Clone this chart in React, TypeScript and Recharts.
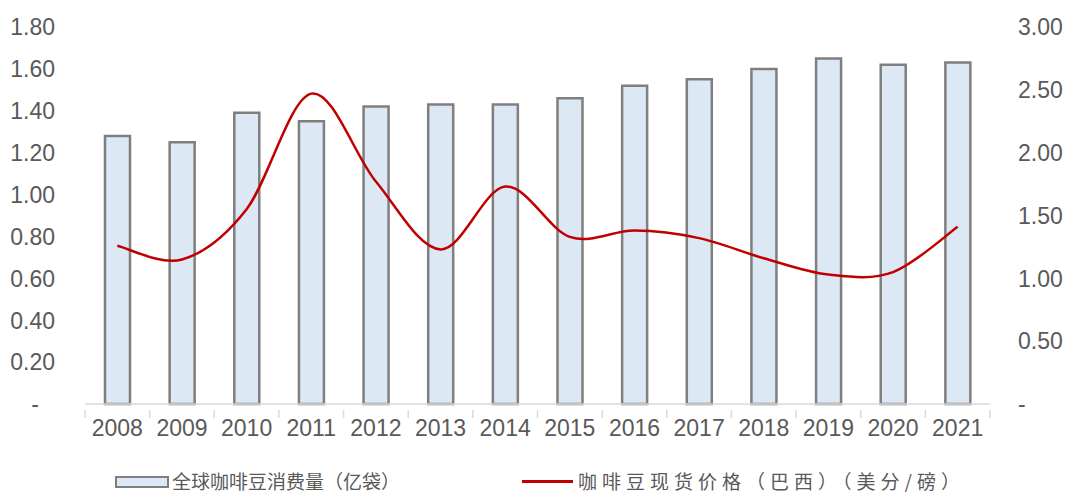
import React from 'react';
import { ComposedChart, Bar, Line, XAxis, YAxis, Legend } from 'recharts';

const years = ['2008', '2009', '2010', '2011', '2012', '2013', '2014', '2015', '2016', '2017', '2018', '2019', '2020', '2021'];
const consumption = [1.28, 1.25, 1.39, 1.35, 1.42, 1.43, 1.43, 1.46, 1.52, 1.55, 1.60, 1.65, 1.62, 1.63];
const price = [1.26, 1.15, 1.55, 2.47, 1.77, 1.23, 1.73, 1.33, 1.38, 1.32, 1.16, 1.03, 1.05, 1.41];
const leftTicks = [0, 0.2, 0.4, 0.6, 0.8, 1.0, 1.2, 1.4, 1.6, 1.8];
const rightTicks = [0, 0.5, 1.0, 1.5, 2.0, 2.5, 3.0];

const barName = '全球咖啡豆消费量（亿袋）';
const lineName = '咖啡豆现货价格（巴西）（美分/磅）';

const chartData = years.map((year, i) => ({ year, consumption: consumption[i], price: price[i] }));

const TEXT = '#595959';
const LATIN = '"Liberation Sans", Arial, sans-serif';
const CJK = '"Noto Sans CJK SC", sans-serif';

// Excel-style smoothed line (Catmull-Rom through the points)
const excelSmooth: any = (context: any) => {
    let pts: number[][] = [];
    return {
        areaStart() {},
        areaEnd() {},
        lineStart() { pts = []; },
        point(x: number, y: number) { pts.push([+x, +y]); },
        lineEnd() {
            if (!pts.length) return;
            context.moveTo(pts[0][0], pts[0][1]);
            for (let i = 0; i < pts.length - 1; i++) {
                const p0 = pts[i - 1] || pts[i];
                const p1 = pts[i];
                const p2 = pts[i + 1];
                const p3 = pts[i + 2] || pts[i + 1];
                context.bezierCurveTo(
                    p1[0] + (p2[0] - p0[0]) / 6, p1[1] + (p2[1] - p0[1]) / 6,
                    p2[0] - (p3[0] - p1[0]) / 6, p2[1] - (p3[1] - p1[1]) / 6,
                    p2[0], p2[1]
                );
            }
        },
    };
};

const LeftTick = ({ x, y, payload }: any) => {
    const zero = payload.value === 0;
    return (
        <text x={zero ? x - 38 : x - 22} y={y} dy="0.36em" textAnchor="end" fill={TEXT} fontSize={23} fontFamily={LATIN}>
            {zero ? '-' : payload.value.toFixed(2)}
        </text>
    );
};

const RightTick = ({ x, y, payload }: any) => (
    <text x={x + 20} y={y} dy="0.36em" textAnchor="start" fill={TEXT} fontSize={23} fontFamily={LATIN}>
        {payload.value === 0 ? '-' : payload.value.toFixed(2)}
    </text>
);

const BAND = 905 / 14;

const XTick = ({ x, y, payload, index }: any) => (
    <g>
        <line x1={x - BAND / 2} x2={x - BAND / 2} y1={y - 2} y2={y + 6} stroke="#D9D9D9" strokeWidth={1.5} />
        {index === years.length - 1 && (
            <line x1={x + BAND / 2} x2={x + BAND / 2} y1={y - 2} y2={y + 6} stroke="#D9D9D9" strokeWidth={1.5} />
        )}
        <text x={x} y={y + 24} textAnchor="middle" fill={TEXT} fontSize={23} fontFamily={LATIN}>
            {payload.value}
        </text>
    </g>
);

const LegendContent = () => (
    <div style={{ position: 'relative', width: 1070, height: 20, fontFamily: CJK, fontSize: 19, color: TEXT }}>
        <div style={{ position: 'absolute', left: 115, top: 5, width: 50, height: 8, background: '#DDE8F5', border: '2px solid #7F7F7F' }} />
        <span style={{ position: 'absolute', left: 172, top: 0, lineHeight: '20px', whiteSpace: 'nowrap' }}>{barName}</span>
        <div style={{ position: 'absolute', left: 522, top: 9, width: 51, height: 3, background: '#C00000' }} />
        <span style={{ position: 'absolute', left: 578, top: 0, lineHeight: '20px', letterSpacing: '5px', whiteSpace: 'nowrap' }}>{lineName}</span>
    </div>
);

const App: React.FC = () => {
    return (
        <div style={{ position: 'absolute', left: 0, top: 0, width: 1070, height: 492, background: '#fff' }}>
            <ComposedChart
                width={1070}
                height={492}
                data={chartData}
                margin={{ top: 27, right: 0, left: 0, bottom: 48 }}
                barCategoryGap={0}
            >
                <XAxis
                    dataKey="year"
                    height={40}
                    axisLine={{ stroke: '#D9D9D9', strokeWidth: 1.5 }}
                    tickLine={false}
                    tick={<XTick />}
                    interval={0}
                />
                <YAxis
                    yAxisId="left"
                    width={85}
                    domain={[0, 1.8]}
                    ticks={leftTicks}
                    axisLine={false}
                    tickLine={false}
                    tick={<LeftTick />}
                    interval={0}
                />
                <YAxis
                    yAxisId="right"
                    orientation="right"
                    width={80}
                    domain={[0, 3]}
                    ticks={rightTicks}
                    axisLine={false}
                    tickLine={false}
                    tick={<RightTick />}
                    interval={0}
                />
                <Legend
                    verticalAlign="middle"
                    align="center"
                    layout="horizontal"
                    content={<LegendContent />}
                    wrapperStyle={{ top: 471, left: 0, width: 1070 }}
                />
                <Bar
                    yAxisId="left"
                    dataKey="consumption"
                    name={barName}
                    barSize={25}
                    fill="#DDE8F5"
                    stroke="#7F7F7F"
                    strokeWidth={2.5}
                    isAnimationActive={false}
                />
                <Line
                    yAxisId="right"
                    dataKey="price"
                    name={lineName}
                    type={excelSmooth}
                    stroke="#C00000"
                    strokeWidth={2.5}
                    dot={false}
                    activeDot={false}
                    isAnimationActive={false}
                />
            </ComposedChart>
        </div>
    );
};

export default App;
